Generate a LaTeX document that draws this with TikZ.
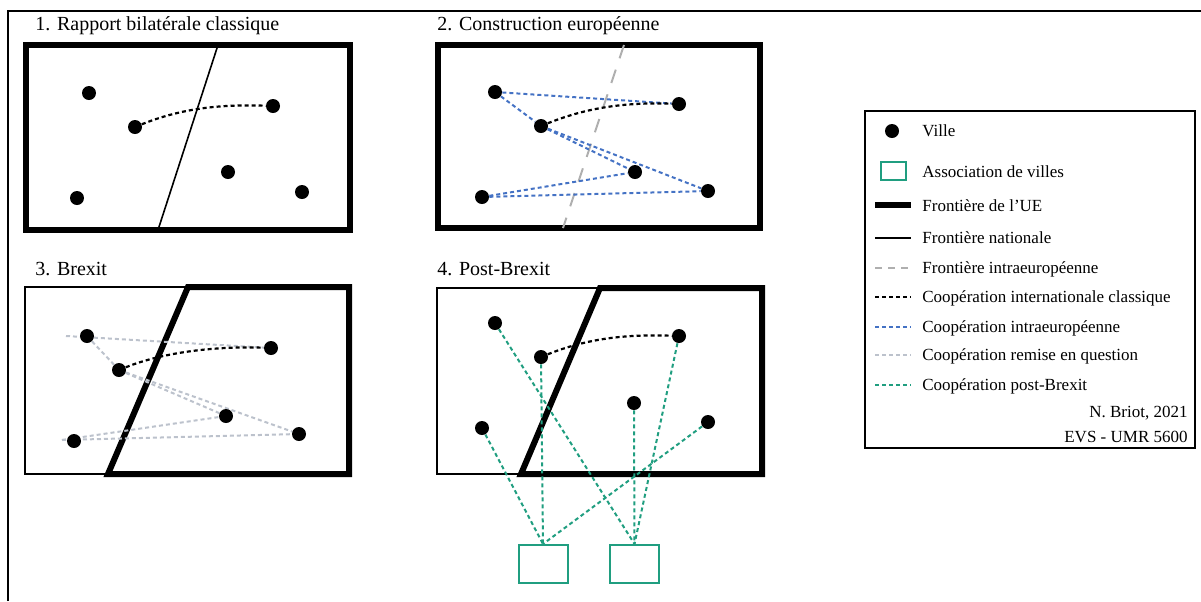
\documentclass[tikz,border=0pt]{standalone}
\usepackage{fontspec}
\setmainfont{Liberation Serif}
\usetikzlibrary{backgrounds}
\definecolor{eublue}{RGB}{68,114,196}
\definecolor{frgray}{RGB}{175,175,175}
\definecolor{qgray}{RGB}{188,194,204}
\definecolor{pbteal}{RGB}{32,158,128}
\begin{document}
\begin{tikzpicture}[x=0.5pt,y=-0.5pt,
  city/.style={circle,fill=black,inner sep=0pt,minimum size=7pt},
  eubord/.style={line width=3pt,line join=miter},
  natbord/.style={line width=0.8pt},
  intrabord/.style={draw=frgray,line width=1pt,dash pattern=on 7pt off 6pt},
  intl/.style={line width=1.1pt,dash pattern=on 2pt off 1.5pt},
  eucoop/.style={draw=eublue,line width=1pt,dash pattern=on 2pt off 1.5pt},
  qcoop/.style={draw=qgray,line width=1pt,dash pattern=on 2pt off 1.5pt},
  pbcoop/.style={draw=pbteal,line width=1pt,dash pattern=on 2pt off 1.5pt},
  assoc/.style={draw=pbteal,line width=1pt,minimum width=24.5pt,minimum height=19pt,inner sep=0pt},
  legassoc/.style={draw=pbteal,line width=1pt,minimum width=12.5pt,minimum height=9pt,inner sep=0pt},
  ptitle/.style={anchor=base west,font=\fontsize{10}{12}\selectfont,inner sep=0pt},
  leg/.style={anchor=base west,font=\fontsize{8.5}{10}\selectfont,inner sep=0pt},
  legr/.style={anchor=base east,font=\fontsize{8.5}{10}\selectfont,inner sep=0pt}]
\useasboundingbox (0,0) rectangle (1201,601);
% outer frame
\draw[line width=1pt] (8,601) -- (8,11) -- (1201,11);

% ---------- Panel 1 ----------
\node[ptitle] (t1) at (35,30) {1. Rapport bilatérale classique};
\node[city] (1a) at (89,93) {};
\node[city] (1b) at (135,127) {};
\node[city] (1c) at (273,106) {};
\node[city] (1d) at (228,172) {};
\node[city] (1e) at (77,198) {};
\node[city] (1f) at (302,192) {};
% ---------- Panel 2 ----------
\node[ptitle] (t2) at (437,30) {2. Construction européenne};
\node[city] (2a) at (495,92) {};
\node[city] (2b) at (541,126) {};
\node[city] (2c) at (679,104) {};
\node[city] (2d) at (635,172) {};
\node[city] (2e) at (482,197) {};
\node[city] (2f) at (708,191) {};
% ---------- Panel 3 ----------
\node[ptitle] (t3) at (35,275) {3. Brexit};
\node[city] (3a) at (87,336) {};
\node[city] (3b) at (119,370) {};
\node[city] (3c) at (271,348) {};
\node[city] (3d) at (226,416) {};
\node[city] (3e) at (74,441) {};
\node[city] (3f) at (299,434) {};
\coordinate (3ax) at (66,336);
\coordinate (3ex) at (62,440);
% ---------- Panel 4 ----------
\node[ptitle] (t4) at (437,275) {4. Post-Brexit};
\node[city] (4a) at (495,323) {};
\node[city] (4b) at (541,357) {};
\node[city] (4c) at (679,336) {};
\node[city] (4d) at (634,403) {};
\node[city] (4e) at (482,428) {};
\node[city] (4f) at (708,422) {};
\node[assoc] (s1) at (543,564) {};
\node[assoc] (s2) at (634.5,564) {};

% ---------- Legend ----------
\draw[line width=1pt] (865,111) rectangle (1195,448);
\node[city] (lv) at (892,131) {};
\node[leg] (lvt) at (922,136) {Ville};
\node[legassoc] (la) at (893.5,171) {};
\node[leg] (lat) at (922,177) {Association de villes};
\coordinate (lu1) at (875,205); \coordinate (lu2) at (911,205);
\node[leg] (lut) at (922,211) {Frontière de l’UE};
\coordinate (ln1) at (875,238); \coordinate (ln2) at (911,238);
\node[leg] (lnt) at (922,243) {Frontière nationale};
\coordinate (li1) at (875,268); \coordinate (li2) at (911,268);
\node[leg] (lit) at (922,273) {Frontière intraeuropéenne};
\coordinate (lc1) at (875,297); \coordinate (lc2) at (911,297);
\node[leg] (lct) at (922,302) {Coopération internationale classique};
\coordinate (le1) at (875,327); \coordinate (le2) at (911,327);
\node[leg] (let) at (922,332) {Coopération intraeuropéenne};
\coordinate (lq1) at (875,355); \coordinate (lq2) at (911,355);
\node[leg] (lqt) at (922,360) {Coopération remise en question};
\coordinate (lp1) at (875,385); \coordinate (lp2) at (911,385);
\node[leg] (lpt) at (922,390) {Coopération post-Brexit};
\node[legr] (lb1) at (1188,417) {N. Briot, 2021};
\node[legr] (lb2) at (1188,442) {EVS - UMR 5600};

\begin{scope}[on background layer]
  % panel 1
  \draw[eubord] (26,45) rectangle (350,230);
  \draw[natbord] (218,45) -- (158,230);
  \draw[intl] (1b) .. controls +(45,-18) and +(-55,-2) .. (1c);
  % panel 2
  \draw[eubord] (438,45) rectangle (760,228);
  \draw[intrabord] (624,45) -- (563,228);
  \draw[eucoop] (2a) -- (2c);
  \draw[eucoop] (2a) -- (2b);
  \draw[eucoop] (2b) -- (2d);
  \draw[eucoop] (2b) -- (2f);
  \draw[eucoop] (2e) -- (2d);
  \draw[eucoop] (2e) -- (2f);
  \draw[intl] (2b) .. controls +(45,-18) and +(-55,-2) .. (2c);
  % panel 3
  \draw[natbord] (188,287) -- (25,287) -- (25,474) -- (108,474);
  \draw[eubord] (188,287) -- (349,287) -- (349,474) -- (108,474) -- cycle;
  \draw[qcoop] (3ax) -- (3c);
  \draw[qcoop] (3a) -- (3b);
  \draw[qcoop] (3b) -- (3d);
  \draw[qcoop] (3b) -- (3f);
  \draw[qcoop] (3ex) -- (3d);
  \draw[qcoop] (3ex) -- (3f);
  \draw[intl] (3b) .. controls +(45,-18) and +(-55,-2) .. (3c);
  % panel 4
  \draw[natbord] (600,288) -- (437,288) -- (437,474) -- (521,474);
  \draw[eubord] (600,288) -- (762,288) -- (762,474) -- (521,474) -- cycle;
  \draw[intl] (4b) .. controls +(45,-18) and +(-55,-2) .. (4c);
  \draw[pbcoop] (4b) -- (s1.north);
  \draw[pbcoop] (4e) -- (s1.north);
  \draw[pbcoop] (4f) -- (s1.north);
  \draw[pbcoop] (4a) -- (s2.north);
  \draw[pbcoop] (4c) -- (s2.north);
  \draw[pbcoop] (4d) -- (s2.north);
  % legend samples
  \draw[eubord] (lu1) -- (lu2);
  \draw[natbord] (ln1) -- (ln2);
  \draw[intrabord,dash pattern=on 3.5pt off 3pt] (li1) -- (li2);
  \draw[intl] (lc1) -- (lc2);
  \draw[eucoop] (le1) -- (le2);
  \draw[qcoop] (lq1) -- (lq2);
  \draw[pbcoop] (lp1) -- (lp2);
\end{scope}
\end{tikzpicture}
\end{document}
